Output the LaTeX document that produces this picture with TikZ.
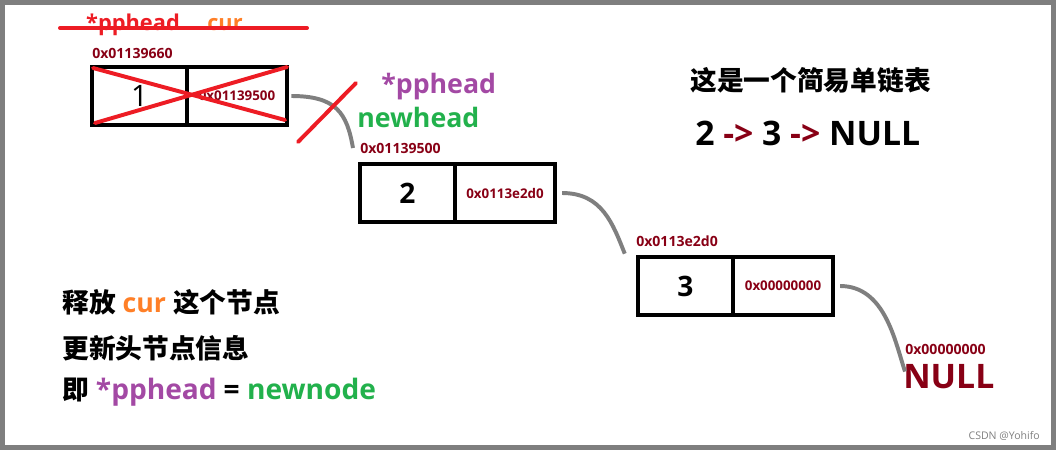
\documentclass[tikz,border=0pt]{standalone}
\usepackage{fontspec}
\setmainfont{Open Sans}
\newfontfamily\cjk{Noto Sans CJK SC}
\usetikzlibrary{positioning}
\definecolor{strikered}{RGB}{237,28,36}
\definecolor{curorange}{RGB}{255,127,39}
\definecolor{headpurple}{RGB}{163,73,164}
\definecolor{newgreen}{RGB}{34,177,76}
\definecolor{addrred}{RGB}{136,0,21}
\definecolor{linkgray}{RGB}{127,127,127}
\newcommand{\fs}[1]{\fontsize{#1}{1.2\dimexpr#1pt\relax}\selectfont}

\begin{document}
\begin{tikzpicture}[x=0.025cm, y=-0.025cm, font=\bfseries,
  cell/.style={draw, line width=2.8pt, inner sep=0pt, outer sep=0pt, minimum height=1.45cm, anchor=west},
  datacell/.style={cell, minimum width=2.375cm, font=\bfseries\fs{20}},
  ptrcell/.style={cell, minimum width=2.5cm, text=addrred, font=\bfseries\fs{9.5}},
  addr/.style={anchor=west, inner sep=0pt, text=addrred, font=\bfseries\fs{10}},
  txt/.style={anchor=west, inner sep=0pt, font=\bfseries\fs{19}},
  link/.style={draw=linkgray, line width=2.8pt},
  cross/.style={draw=strikered, line width=2.8pt, line cap=round}]
\useasboundingbox (0,0) rectangle (1056,450);
\draw[linkgray, line width=3.5pt] (2.5,2.5) rectangle (1053.5,447.5);

% the freed node
\node[anchor=center, inner sep=0pt, text=strikered, font=\bfseries\fs{15.5}] (s1) at (133,25) {*pphead};
\node[anchor=center, inner sep=0pt, text=curorange, font=\bfseries\fs{15.5}] (s2) at (225,25) {cur};
\draw[cross] (60,28) -- (307,28);
\node[addr] (a1) at (92,53) {0x01139660};
\node[datacell, font=\normalfont\fs{21}] (d1) at (92,96) {1};
\node[ptrcell, right=0pt of d1] (p1) {0x01139500};
\draw[cross] ([shift={(1,1)}]d1.north west) -- ([shift={(-2,-5)}]p1.south east);
\draw[cross] ([shift={(3,-2)}]d1.south west) -- (p1.north east);

% new head
\node[txt, text=headpurple] (h1) at (381,87) {*pphead};
\node[txt, text=newgreen] (h2) at (357,117) {newhead};
\node[addr] (a2) at (360,148) {0x01139500};
\node[datacell] (d2) at (360,193) {2};
\node[ptrcell, right=0pt of d2] (p2) {0x0113e2d0};

\node[addr] (a3) at (636,241) {0x0113e2d0};
\node[datacell] (d3) at (638,286) {3};
\node[ptrcell, right=0pt of d3] (p3) {0x00000000};

\node[addr] (a4) at (905,349) {0x00000000};
\node[anchor=west, inner sep=0pt, text=addrred, font=\bfseries\fs{24}] (n4) at (903,377) {NULL};

% pointers
\draw[link] ([xshift=3]p1.east) .. controls +(45,0) and +(-6,-35) .. ([xshift=-5]a2.west);
\draw[cross] (298,142) -- (356,83);
\draw[link] ([xshift=5]p2.east) .. controls +(40,0) and +(-12,-30) .. ([xshift=-8,yshift=-9]a3.west);
\draw[link] ([xshift=5]p3.east) .. controls +(45,0) and +(-10,-30) .. ([yshift=-16]a4.west);

% notes
\node[txt] (t1) at (62,302) {{\cjk 释放} \textcolor{curorange}{cur} {\cjk 这个节点}};
\node[txt] (t2) at (62,348) {\cjk 更新头节点信息};
\node[txt] (t3) at (62,392) {{\cjk 即} \textcolor{headpurple}{\fs{20}*pphead} \fs{20}= \textcolor{newgreen}{newnode}};
\node[txt] (t4) at (690,80) {\cjk 这是一个简易单链表};
\node[anchor=west, inner sep=0pt, font=\bfseries\fs{24}] (t5) at (695,133)
  {2 \textcolor{addrred}{->} 3 \textcolor{addrred}{->} NULL};
\node[anchor=east, inner sep=0pt, text=linkgray, font=\normalfont\fs{7.5}] (cs) at (1040,436) {CSDN @Yohifo};
\end{tikzpicture}
\end{document}
